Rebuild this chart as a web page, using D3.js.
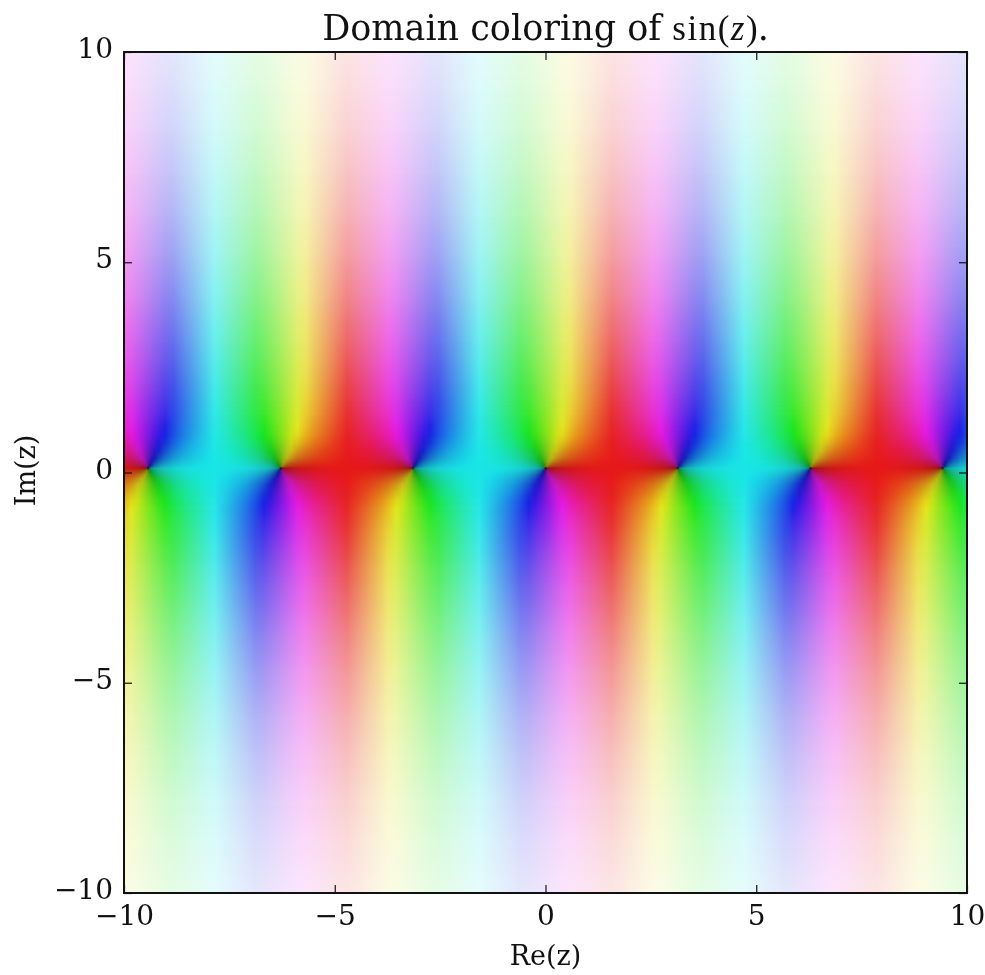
<!DOCTYPE html>
<html>
<head>
<meta charset="utf-8">
<script src="https://cdn.jsdelivr.net/npm/d3@7"></script>
<style>
  html, body { margin: 0; background: #fff; }
  svg { display: block; filter: blur(0.7px); }
  text { font-family: "DejaVu Serif", serif; fill: #111; }
</style>
</head>
<body>
<div id="chart"></div>
<script>
(function () {

  /***** Data *****/
  var ticks = [-10, -5, 0, 5, 10]
  var zeroSpacing = Math.PI          // the pinwheels repeat every pi along Re(z)
  var fieldCenterIm = 0.1            // pinwheel row sits a little above the Im=0 tick

  // offset from a pinwheel, out to the middle of the gap (the other side mirrors it)
  var colX = [0, 0.04, 0.08, 0.15, 0.25, 0.4, 0.6, 0.8, 1.05, 1.3, 1.571]
  // distance from the pinwheel row
  var rowY = [0, 0.04, 0.08, 0.15, 0.25, 0.4, 0.6, 0.8, 1, 1.3, 1.6, 2, 2.5, 3, 4, 5, 6, 7, 8, 9, 10, 10.3]

  // hue in degrees, one line per rowY; rows further out than the last line look the same as it
  var hueRows = [
    [90, 0, 0, 0, 0, 0, 0, 0, 0, 0, 0],
    [90, 45, 27, 15, 9, 5, 3, 2, 1, 1, 0],
    [90, 63, 45, 28, 17, 11, 7, 4, 3, 1, 0],
    [90, 75, 62, 44, 30, 19, 12, 8, 5, 2, 0],
    [90, 81, 72, 58, 44, 30, 20, 13, 8, 4, 0],
    [90, 84, 78, 68, 56, 42, 29, 20, 12, 6, 0],
    [90, 86, 81, 74, 65, 52, 38, 27, 17, 8, 0],
    [90, 87, 83, 77, 69, 57, 44, 33, 21, 10, 0],
    [90, 87, 84, 79, 71, 61, 48, 36, 24, 12, 0],
    [90, 87, 85, 80, 73, 64, 51, 40, 26, 13, 0],
    [90, 87, 85, 81, 74, 65, 53, 42, 28, 14, 0],
    [90, 88, 85, 81, 75, 66, 55, 43, 29, 15, 0],
    [90, 88, 85, 81, 76, 67, 56, 44, 30, 15, 0]
  ]

  // lightness, one line per rowY
  var lightRows = [
    [0, 0.276, 0.319, 0.361, 0.398, 0.43, 0.458, 0.474, 0.49, 0.497, 0.5],
    [0.276, 0.3, 0.325, 0.364, 0.398, 0.43, 0.458, 0.474, 0.49, 0.497, 0.5],
    [0.319, 0.325, 0.342, 0.37, 0.402, 0.431, 0.458, 0.475, 0.49, 0.497, 0.5],
    [0.361, 0.364, 0.37, 0.386, 0.408, 0.434, 0.46, 0.477, 0.49, 0.498, 0.5],
    [0.4, 0.4, 0.403, 0.41, 0.424, 0.443, 0.465, 0.479, 0.492, 0.5, 0.503],
    [0.434, 0.434, 0.435, 0.438, 0.445, 0.458, 0.473, 0.486, 0.497, 0.505, 0.507],
    [0.466, 0.466, 0.466, 0.468, 0.471, 0.478, 0.488, 0.497, 0.505, 0.511, 0.512],
    [0.491, 0.491, 0.491, 0.492, 0.494, 0.497, 0.504, 0.51, 0.516, 0.52, 0.522],
    [0.512, 0.512, 0.512, 0.513, 0.514, 0.516, 0.52, 0.524, 0.528, 0.531, 0.532],
    [0.538, 0.538, 0.538, 0.539, 0.54, 0.543, 0.546, 0.548, 0.55, 0.55, 0.55],
    [0.563, 0.563, 0.563, 0.564, 0.566, 0.566, 0.568, 0.569, 0.57, 0.57, 0.57],
    [0.596, 0.596, 0.596, 0.596, 0.596, 0.597, 0.597, 0.598, 0.598, 0.598, 0.598]
  ]
  // lightness further out, where it no longer changes along Re(z): rowY from 2.5 on
  var lightFar = [0.635, 0.666, 0.73, 0.784, 0.83, 0.868, 0.9, 0.924, 0.942, 0.945]

  var saturation = 0.8

  /***** Configuration *****/
  var width = 985, height = 975
  var margin = { top: 52, right: 18, bottom: 82, left: 124 }
  var tickLength = 8
  var tickFont = "28px"

  var x = d3.scaleLinear().domain([-10, 10]).range([margin.left, width - margin.right])
  var y = d3.scaleLinear().domain([-10, 10]).range([height - margin.bottom, margin.top])

  var svg = d3.select("#chart").append("svg")
      .attr("width", width)
      .attr("height", height)

  var defs = svg.append("defs")

  defs.append("clipPath").attr("id", "plot-clip")
    .append("rect")
      .attr("x", x(-10)).attr("y", y(10))
      .attr("width", x(10) - x(-10)).attr("height", y(-10) - y(10))

  // shared fade, top of a band to its bottom
  var fade = defs.append("linearGradient").attr("id", "fade")
      .attr("x1", 0).attr("y1", 0).attr("x2", 0).attr("y2", 1)
  fade.append("stop").attr("offset", 0).attr("stop-color", "#fff").attr("stop-opacity", 0)
  fade.append("stop").attr("offset", 1).attr("stop-color", "#fff").attr("stop-opacity", 1)
  defs.append("mask").attr("id", "fade-mask")
      .attr("maskContentUnits", "objectBoundingBox")
    .append("rect").attr("width", 1).attr("height", 1).attr("fill", "url(#fade)")

  function rowHue(i, c) {
    return hueRows[Math.min(i, hueRows.length - 1)][c]
  }
  function rowLight(i, c) {
    return i < lightRows.length ? lightRows[i][c] : lightFar[i - lightRows.length]
  }

  // one row of the field as a list of stops along Re(z)
  function rowStops(i, sign) {
    var stops = []
    function add(pos, hue, light) {
      stops.push({ pos: pos, color: d3.hsl(((hue * sign) % 360 + 360) % 360, saturation, light).formatRgb() })
    }
    d3.range(-4, 4).forEach(function (k) {
      var start = k * zeroSpacing
      var turn = k % 2 === 0 ? 0 : 180
      colX.forEach(function (cx, c) {
        add(start + cx, rowHue(i, c) * 1 + turn * sign, rowLight(i, c))
      })
      for (var c = colX.length - 2; c > 0; c--) {
        add(start + zeroSpacing - colX[c], -rowHue(i, c) + turn * sign, rowLight(i, c))
      }
    })
    return stops
  }

  // rows from the top of the plot to the bottom
  var rows = []
  rowY.forEach(function (v, i) { rows.push({ im: v, index: i, sign: 1 }) })
  rowY.slice(1).forEach(function (v, i) { rows.push({ im: -v, index: i + 1, sign: -1 }) })
  rows.sort(function (a, b) { return b.im - a.im })

  var gradX1 = x(-4 * zeroSpacing), gradX2 = x(4 * zeroSpacing)
  rows.forEach(function (row, r) {
    var grad = defs.append("linearGradient").attr("id", "row-" + r)
        .attr("gradientUnits", "userSpaceOnUse")
        .attr("x1", gradX1).attr("x2", gradX2).attr("y1", 0).attr("y2", 0)
    grad.selectAll("stop").data(rowStops(row.index, row.sign)).enter().append("stop")
        .attr("offset", function (d) { return (x(d.pos) - gradX1) / (gradX2 - gradX1) })
        .attr("stop-color", function (d) { return d.color })
  })

  var field = svg.append("g").attr("clip-path", "url(#plot-clip)")
  d3.pairs(rows).forEach(function (pair, r) {
    var y0 = Math.round(y(pair[0].im + fieldCenterIm))
    var y1 = Math.round(y(pair[1].im + fieldCenterIm))
    if (y1 <= y0) return
    field.append("rect")
        .attr("x", x(-10)).attr("y", y0).attr("width", x(10) - x(-10)).attr("height", y1 - y0)
        .attr("shape-rendering", "crispEdges")
        .attr("fill", "url(#row-" + r + ")")
    field.append("rect")
        .attr("x", x(-10)).attr("y", y0).attr("width", x(10) - x(-10)).attr("height", y1 - y0)
        .attr("shape-rendering", "crispEdges")
        .attr("fill", "url(#row-" + (r + 1) + ")")
        .attr("mask", "url(#fade-mask)")
  })

  /***** Axes *****/
  function styleAxis(g, showLabels) {
    g.select(".domain").remove()
    g.selectAll("line").attr("stroke", "#111").attr("stroke-width", 1.2)
    g.selectAll("text").style("font-size", tickFont).style("font-family", "'DejaVu Serif', serif").attr("fill", "#111")
    if (!showLabels) g.selectAll("text").remove()
  }

  var fmt = d3.format("d")
  svg.append("g").attr("transform", "translate(0," + y(-10) + ")")
      .call(d3.axisBottom(x).tickValues(ticks).tickFormat(fmt).tickSizeInner(-tickLength).tickSizeOuter(0).tickPadding(12))
      .call(styleAxis, true)
  svg.append("g").attr("transform", "translate(0," + y(10) + ")")
      .call(d3.axisTop(x).tickValues(ticks).tickSizeInner(-tickLength).tickSizeOuter(0))
      .call(styleAxis, false)
  svg.append("g").attr("transform", "translate(" + x(-10) + ",0)")
      .call(d3.axisLeft(y).tickValues(ticks).tickFormat(fmt).tickSizeInner(-tickLength).tickSizeOuter(0).tickPadding(11))
      .call(styleAxis, true)
      .selectAll("text").attr("dy", "0.2em")
  svg.append("g").attr("transform", "translate(" + x(10) + ",0)")
      .call(d3.axisRight(y).tickValues(ticks).tickSizeInner(-tickLength).tickSizeOuter(0))
      .call(styleAxis, false)

  svg.append("rect")
      .attr("x", x(-10)).attr("y", y(10))
      .attr("width", x(10) - x(-10)).attr("height", y(-10) - y(10))
      .attr("fill", "none").attr("stroke", "#111").attr("stroke-width", 2)

  /***** Labels *****/
  svg.append("text").attr("x", x(0)).attr("y", 965)
      .attr("text-anchor", "middle").style("font-size", "27px").text("Re(z)")

  svg.append("text")
      .attr("transform", "translate(35," + (y(0) - 2) + ") rotate(-90)")
      .attr("text-anchor", "middle").style("font-size", "27px").text("Im(z)")

  var mathFont = "'Liberation Serif', serif"
  var title = svg.append("text").attr("x", x(0)).attr("y", 40)
      .attr("text-anchor", "middle").style("font-size", "35px")
  title.append("tspan").text("Domain coloring of ")
  title.append("tspan").style("font-family", mathFont).style("letter-spacing", "1.5px").text("sin(")
  title.append("tspan").style("font-family", mathFont).style("font-style", "italic").style("letter-spacing", "1.5px").text("z")
  title.append("tspan").style("font-family", mathFont).text(")")
  title.append("tspan").text(".")

})()
</script>
</body>
</html>
